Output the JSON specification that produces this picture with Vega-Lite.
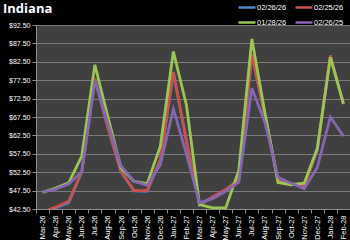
{
  "$schema": "https://vega.github.io/schema/vega-lite/v6.json",
  "width": 314,
  "height": 184,
  "autosize": {"type": "none"},
  "padding": {"left": 36, "top": 25, "right": 0, "bottom": 31},
  "background": "#000000",
  "config": {
    "view": {"fill": "#404040", "stroke": null},
    "font": "Liberation Sans"
  },
  "title": {
    "text": "Indiana",
    "anchor": "start",
    "frame": "group",
    "orient": "top",
    "dx": -33,
    "dy": 26,
    "offset": 8,
    "fontSize": 13,
    "fontWeight": "bold",
    "color": "#ffffff",
    "font": "Open Sans"
  },
  "data": {
    "values": [
      {"m": "Mar-26", "a": 41.5, "b": 41.7, "c": 47.0, "d": 47.1},
      {"m": "Apr-26", "a": 42.8, "b": 43.0, "c": 48.2, "d": 47.9},
      {"m": "May-26", "a": 44.2, "b": 44.6, "c": 49.6, "d": 49.3},
      {"m": "Jun-26", "a": 52.6, "b": 52.7, "c": 56.9, "d": 52.7},
      {"m": "Jul-26", "a": 77.8, "b": 77.9, "c": 81.7, "d": 77.4},
      {"m": "Aug-26", "a": 64.6, "b": 64.6, "c": 67.5, "d": 65.7},
      {"m": "Sep-26", "a": 52.6, "b": 52.7, "c": 53.6, "d": 54.2},
      {"m": "Oct-26", "a": 47.4, "b": 47.5, "c": 50.0, "d": 50.0},
      {"m": "Nov-26", "a": 47.3, "b": 47.5, "c": 49.4, "d": 48.9},
      {"m": "Dec-26", "a": 55.8, "b": 55.9, "c": 59.5, "d": 54.5},
      {"m": "Jan-27", "a": 79.6, "b": 79.7, "c": 85.3, "d": 69.7},
      {"m": "Feb-27", "a": 61.0, "b": 61.0, "c": 70.7, "d": 57.5},
      {"m": "Mar-27", "a": 43.6, "b": 43.7, "c": 43.7, "d": 44.2},
      {"m": "Apr-27", "a": 45.7, "b": 45.8, "c": 42.8, "d": 45.3},
      {"m": "May-27", "a": 47.7, "b": 47.8, "c": 42.8, "d": 47.3},
      {"m": "Jun-27", "a": 50.4, "b": 50.5, "c": 53.0, "d": 49.8},
      {"m": "Jul-27", "a": 84.4, "b": 84.5, "c": 88.7, "d": 75.3},
      {"m": "Aug-27", "a": 67.8, "b": 67.9, "c": 68.6, "d": 66.0},
      {"m": "Sep-27", "a": 50.2, "b": 50.3, "c": 49.7, "d": 51.1},
      {"m": "Oct-27", "a": 49.3, "b": 49.4, "c": 49.1, "d": 49.5},
      {"m": "Nov-27", "a": 48.7, "b": 48.8, "c": 49.5, "d": 48.0},
      {"m": "Dec-27", "a": 58.5, "b": 58.6, "c": 59.0, "d": 53.8},
      {"m": "Jan-28", "a": 84.1, "b": 84.2, "c": 83.7, "d": 67.5},
      {"m": "Feb-28", "a": 71.0, "b": 71.1, "c": 71.1, "d": 62.3}
    ]
  },
  "transform": [
    {"fold": ["a", "b", "c", "d"], "as": ["key", "price"]},
    {"lookup": "key", "from": {"data": {"values": [
      {"key": "a", "series": "02/26/26"},
      {"key": "b", "series": "02/25/26"},
      {"key": "c", "series": "01/28/26"},
      {"key": "d", "series": "02/26/25"}
    ]}, "key": "key", "fields": ["series"]}}
  ],
  "mark": {"type": "line", "strokeWidth": 2.8, "clip": true},
  "encoding": {
    "x": {
      "field": "m",
      "type": "ordinal",
      "sort": ["Mar-26","Apr-26","May-26","Jun-26","Jul-26","Aug-26","Sep-26","Oct-26","Nov-26","Dec-26","Jan-27","Feb-27","Mar-27","Apr-27","May-27","Jun-27","Jul-27","Aug-27","Sep-27","Oct-27","Nov-27","Dec-27","Jan-28","Feb-28"],
      "scale": {"type": "band", "paddingInner": 0, "paddingOuter": 0},
      "axis": {
        "title": null,
        "labelAngle": 270,
        "labelColor": "#ffffff",
        "labelFontSize": 7.5,
        "labelPadding": 2,
        "tickBand": "extent",
        "tickColor": "#8c8c8c",
        "tickSize": 4,
        "domainColor": "#8c8c8c",
        "grid": false
      }
    },
    "y": {
      "field": "price",
      "type": "quantitative",
      "scale": {"domain": [42.5, 92.5], "nice": false, "zero": false},
      "axis": {
        "title": null,
        "values": [42.5, 47.5, 52.5, 57.5, 62.5, 67.5, 72.5, 77.5, 82.5, 87.5, 92.5],
        "format": "$.2f",
        "labelColor": "#ffffff",
        "labelFontSize": 7,
        "labelPadding": 2,
        "tickColor": "#8c8c8c",
        "tickSize": 4,
        "domainColor": "#8c8c8c",
        "gridColor": "#7a7a7a",
        "gridWidth": 1
      }
    },
    "color": {
      "field": "series",
      "type": "nominal",
      "sort": ["02/26/26", "02/25/26", "01/28/26", "02/26/25"],
      "scale": {
        "domain": ["02/26/26", "02/25/26", "01/28/26", "02/26/25"],
        "range": ["#4a86c8", "#c9504d", "#9bc653", "#8566b0"]
      },
      "legend": {
        "title": null,
        "orient": "none",
        "legendX": 201,
        "legendY": -27.5,
        "columns": 2,
        "direction": "horizontal",
        "symbolType": "stroke",
        "symbolSize": 289,
        "symbolStrokeWidth": 2.5,
        "labelColor": "#ffffff",
        "labelFontSize": 7.5,
        "labelOffset": 0,
        "columnPadding": 3,
        "rowPadding": -4
      }
    }
  }
}
